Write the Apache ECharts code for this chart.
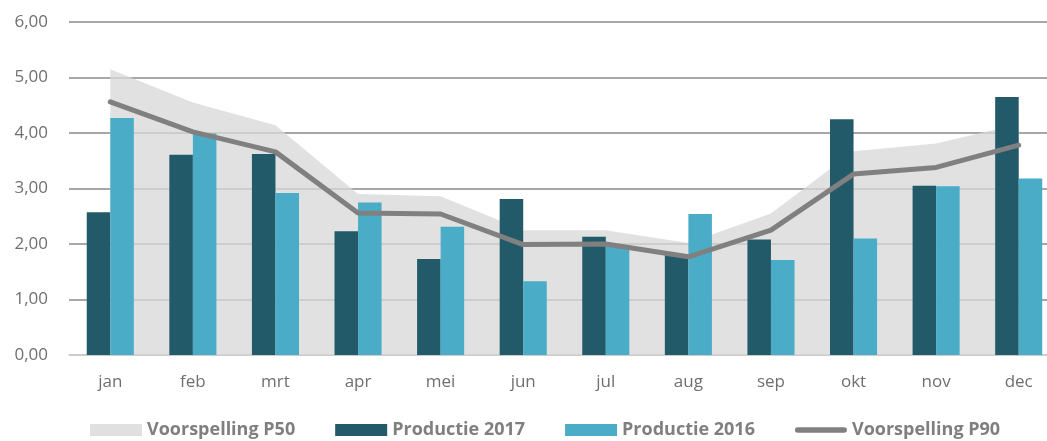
<!DOCTYPE html>
<html>
<head>
<meta charset="utf-8">
<script src="https://cdn.jsdelivr.net/npm/echarts@6/dist/echarts.min.js"></script>
<style>
html,body{margin:0;padding:0;background:#fff;}
#chart{width:1047px;height:441px;}
</style>
</head>
<body>
<div id="chart"></div>
<script>
var months = ['jan','feb','mrt','apr','mei','jun','jul','aug','sep','okt','nov','dec'];
var voorspellingP50 = [5.15, 4.55, 4.14, 2.90, 2.86, 2.25, 2.25, 2.02, 2.55, 3.67, 3.81, 4.16];
var productie2017 = [2.57, 3.61, 3.62, 2.23, 1.73, 2.81, 2.13, 1.80, 2.08, 4.25, 3.05, 4.65];
var productie2016 = [4.27, 3.99, 2.92, 2.75, 2.31, 1.33, 1.98, 2.54, 1.71, 2.10, 3.04, 3.18];
var voorspellingP90 = [4.56, 4.02, 3.66, 2.56, 2.54, 1.99, 2.00, 1.77, 2.25, 3.26, 3.38, 3.78];

var chart = echarts.init(document.getElementById('chart'), null, {renderer:'canvas'});
var font = "'Open Sans', sans-serif";
chart.setOption({
  animation: false,
  textStyle: {fontFamily: font},
  grid: {left: 69, right: -13, top: 22, bottom: 86, containLabel: false, outerBoundsMode: 'none'},
  legend: {
    top: 421,
    left: 90,
    padding: 0,
    itemWidth: 52,
    itemHeight: 12,
    itemGap: 40,
    symbolKeepAspect: false,
    textStyle: {fontSize: 18, fontWeight: 'bold', color: '#7f7f7f', fontFamily: font},
    data: [
      {name: 'Voorspelling P50', icon: 'rect'},
      {name: 'Productie 2017', icon: 'rect'},
      {name: 'Productie 2016', icon: 'rect'},
      {name: 'Voorspelling P90', icon: 'path://M0,0L0.01,0M0,12L0.01,12M2.75,3.25A2.75,2.75,0,0,0,2.75,8.75L49.25,8.75A2.75,2.75,0,0,0,49.25,3.25Z'}
    ]
  },
  xAxis: {
    type: 'category',
    data: months,
    boundaryGap: true,
    axisLine: {show: true, lineStyle: {color: '#d9d9d9', width: 1.5}},
    axisTick: {show: false},
    axisLabel: {fontSize: 17, color: '#6f6f6f', margin: 19, fontFamily: font}
  },
  yAxis: {
    type: 'value',
    min: 0, max: 6, interval: 1,
    axisLine: {show: false},
    axisTick: {show: false},
    splitLine: {lineStyle: {color: '#8a8a8a', width: 1.5}},
    axisLabel: {fontSize: 17, color: '#6f6f6f', margin: 21, fontFamily: font,
      formatter: function(v){ return v.toFixed(2).replace('.', ','); }}
  },
  series: [
    {
      name: 'Voorspelling P50', type: 'line', data: voorspellingP50,
      symbol: 'none', lineStyle: {width: 0},
      itemStyle: {color: '#e0e0e0'},
      areaStyle: {color: 'rgba(216,216,216,0.78)', opacity: 1},
      z: 1
    },
    {
      name: 'Productie 2017', type: 'bar', data: productie2017,
      barGap: '0%', barCategoryGap: '43%',
      itemStyle: {color: '#225a6a'}, z: 2
    },
    {
      name: 'Productie 2016', type: 'bar', data: productie2016,
      barGap: '0%', barCategoryGap: '43%',
      itemStyle: {color: '#4aacc6'}, z: 2
    },
    {
      name: 'Voorspelling P90', type: 'line', data: voorspellingP90,
      symbol: 'none', lineStyle: {width: 5, color: '#808080', cap: 'round', join: 'round'},
      itemStyle: {color: '#808080'}, z: 3
    }
  ]
});
</script>
</body>
</html>
